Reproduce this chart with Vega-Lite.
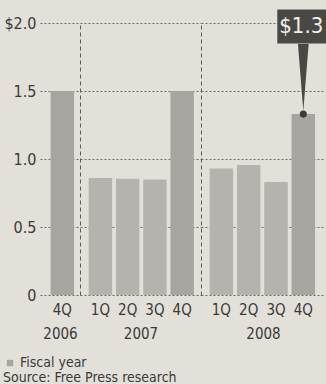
{
  "$schema": "https://vega.github.io/schema/vega-lite/v6.json",
  "background": "#e2e0d8",
  "padding": {"left": 3, "top": 9, "right": 0, "bottom": 2},
  "spacing": 0,
  "bounds": "flush",
  "data": {"values": [
    {"year": "2006", "q": "4Q", "value": 1.5, "kind": "Fiscal year"},
    {"year": "2007", "q": "1Q", "value": 0.86, "kind": "Quarter"},
    {"year": "2007", "q": "2Q", "value": 0.855, "kind": "Quarter"},
    {"year": "2007", "q": "3Q", "value": 0.85, "kind": "Quarter"},
    {"year": "2007", "q": "4Q", "value": 1.5, "kind": "Fiscal year"},
    {"year": "2008", "q": "1Q", "value": 0.93, "kind": "Quarter"},
    {"year": "2008", "q": "2Q", "value": 0.955, "kind": "Quarter"},
    {"year": "2008", "q": "3Q", "value": 0.83, "kind": "Quarter"},
    {"year": "2008", "q": "4Q", "value": 1.33, "kind": "Fiscal year"}
  ]},
  "title": {
    "text": "Source: Free Press research",
    "orient": "bottom",
    "anchor": "start",
    "frame": "bounds",
    "font": "Liberation Sans Narrow, DejaVu Sans Condensed, sans-serif",
    "fontSize": 14,
    "fontWeight": "normal",
    "color": "#3a3a3a",
    "offset": 1
  },
  "hconcat": [
    {
      "width": 40,
      "height": 272,
      "transform": [{"filter": "datum.year == '2006'"}],
      "mark": {"type": "bar"},
      "encoding": {
        "x": {
          "field": "q", "type": "nominal",
          "scale": {"paddingInner": 0.14, "paddingOuter": 0.305, "align": 0.64, "round": false},
          "axis": {"title": "2006", "labelAngle": 0, "labelPadding": 7, "ticks": false, "domain": false, "titlePadding": 9}
        },
        "y": {
          "field": "value", "type": "quantitative",
          "scale": {"domain": [0, 2], "nice": false},
          "axis": {
            "values": [0, 0.5, 1, 1.5, 2],
            "labelExpr": "datum.value == 2 ? '$2.0' : datum.value == 0 ? '0' : format(datum.value, '.1f')",
            "ticks": false, "domain": false, "grid": true, "title": null, "labelPadding": 4
          }
        },
        "color": {
          "field": "kind", "type": "nominal",
          "scale": {"domain": ["Fiscal year", "Quarter"], "range": ["#a7a5a0", "#b5b3ad"]},
          "legend": {
            "values": ["Fiscal year"], "title": null, "orient": "none",
            "legendX": -37, "legendY": 333, "symbolType": "square", "symbolSize": 40,
            "labelFont": "Liberation Sans Narrow, DejaVu Sans Condensed, sans-serif",
            "labelFontSize": 14, "labelColor": "#3a3a3a", "labelOffset": 3
          }
        }
      }
    },
    {
      "width": 121,
      "height": 272,
      "transform": [{"filter": "datum.year == '2007'"}],
      "mark": {"type": "bar"},
      "encoding": {
        "x": {
          "field": "q", "type": "nominal",
          "scale": {"paddingInner": 0.14, "paddingOuter": 0.29, "align": 0.55, "round": false},
          "axis": {"title": "2007", "labelAngle": 0, "labelPadding": 7, "ticks": false, "domain": false, "titlePadding": 9}
        },
        "y": {
          "field": "value", "type": "quantitative",
          "scale": {"domain": [0, 2], "nice": false},
          "axis": {
            "values": [0, 0.5, 1, 1.5, 2],
            "labels": false, "ticks": false, "domain": true, "domainDash": [4, 3], "domainColor": "#5a5a5a",
            "grid": true, "title": null
          }
        },
        "color": {"field": "kind", "type": "nominal"}
      }
    },
    {
      "width": 124,
      "height": 272,
      "transform": [{"filter": "datum.year == '2008'"}],
      "encoding": {
        "x": {
          "field": "q", "type": "nominal",
          "scale": {"paddingInner": 0.14, "paddingOuter": 0.341, "align": 0.465, "round": false},
          "axis": {"title": "2008", "labelAngle": 0, "labelPadding": 7, "ticks": false, "domain": false, "titlePadding": 9}
        }
      },
      "layer": [
        {
          "mark": {"type": "bar"},
          "encoding": {
            "y": {
              "field": "value", "type": "quantitative",
              "scale": {"domain": [0, 2], "nice": false},
              "axis": {
                "values": [0, 0.5, 1, 1.5, 2],
                "labels": false, "ticks": false, "domain": true, "domainDash": [4, 3], "domainColor": "#5a5a5a",
                "grid": true, "title": null
              }
            },
            "color": {"field": "kind", "type": "nominal"}
          }
        },
        {
          "transform": [{"filter": "datum.q == '4Q'"}],
          "mark": {"type": "bar", "width": 52, "color": "#4a4845"},
          "encoding": {
            "y": {"datum": 1.85, "type": "quantitative"},
            "y2": {"datum": 2.1}
          }
        },
        {
          "transform": [{"filter": "datum.q == '4Q'"}],
          "mark": {"type": "point", "shape": "M-0.16,-1 L0.16,-1 L0,1 Z", "filled": true, "size": 4489, "color": "#4a4845", "opacity": 1},
          "encoding": {
            "y": {"datum": 1.6, "type": "quantitative"}
          }
        },
        {
          "transform": [{"filter": "datum.q == '4Q'"}],
          "mark": {"type": "point", "shape": "circle", "filled": true, "size": 50, "color": "#3e3c3a", "opacity": 1},
          "encoding": {
            "y": {"field": "value", "type": "quantitative"}
          }
        },
        {
          "transform": [{"filter": "datum.q == '4Q'"}],
          "mark": {"type": "text", "color": "#f2f0ea", "fontSize": 22, "baseline": "middle", "align": "center", "font": "Liberation Sans Narrow, DejaVu Sans Condensed, sans-serif", "dx": -2},
          "encoding": {
            "y": {"datum": 1.975, "type": "quantitative"},
            "text": {"field": "value", "type": "quantitative", "format": "$.1f"}
          }
        }
      ]
    }
  ],
  "config": {
    "view": {"stroke": null},
    "font": "Liberation Sans Narrow, DejaVu Sans Condensed, sans-serif",
    "axis": {
      "labelFont": "Liberation Sans Narrow, DejaVu Sans Condensed, sans-serif",
      "labelFontSize": 15,
      "labelColor": "#3a3a3a",
      "titleFont": "Liberation Sans Narrow, DejaVu Sans Condensed, sans-serif",
      "titleFontSize": 15,
      "titleFontWeight": "normal",
      "titleColor": "#3a3a3a",
      "gridColor": "#6a6a6a",
      "gridDash": [2, 2],
      "gridWidth": 1,
      "gridOpacity": 1
    },
    "axisY": {"labelFontSize": 16}
  }
}
